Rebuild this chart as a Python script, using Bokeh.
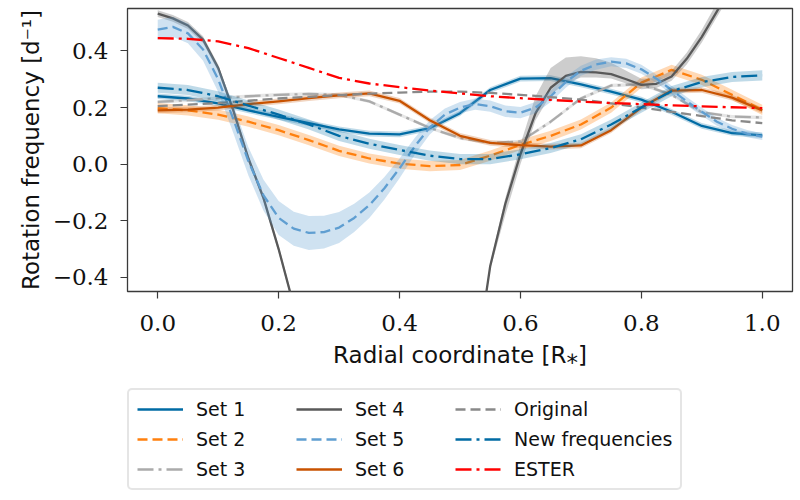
import numpy as np
from bokeh.plotting import figure
from bokeh.layouts import column
from bokeh.models import Range1d, FixedTicker, Legend, LegendItem, CustomJSTickFormatter
from bokeh.embed import file_html
from bokeh.resources import INLINE

# ---------------- data ----------------
r = [0.0, 0.05, 0.1, 0.15, 0.2, 0.25, 0.3, 0.35, 0.4, 0.45, 0.5,
     0.55, 0.6, 0.65, 0.7, 0.75, 0.8, 0.85, 0.9, 0.95, 1.0]
r_fine = [0.0, 0.025, 0.05, 0.075, 0.1, 0.125, 0.15, 0.175, 0.2, 0.225,
          0.25, 0.275, 0.3, 0.325, 0.35, 0.375, 0.4, 0.425, 0.45, 0.475,
          0.5, 0.525, 0.55, 0.575, 0.6, 0.625, 0.65, 0.675, 0.7, 0.725,
          0.75, 0.775, 0.8, 0.825, 0.85, 0.875, 0.9, 0.925, 0.95, 0.975, 1.0]

set1 = [0.240, 0.232, 0.215, 0.190, 0.167, 0.145, 0.123, 0.108, 0.105, 0.127, 0.180,
        0.262, 0.302, 0.304, 0.282, 0.256, 0.228, 0.185, 0.135, 0.110, 0.102]
set1_err = 0.010

set2 = [0.198, 0.190, 0.175, 0.150, 0.120, 0.085, 0.047, 0.020, 0.002, -0.007, -0.003,
        0.030, 0.068, 0.100, 0.140, 0.200, 0.288, 0.333, 0.298, 0.245, 0.192]
set2_err = 0.018

set3 = [0.220, 0.226, 0.233, 0.240, 0.245, 0.248, 0.245, 0.222, 0.175, 0.128, 0.092,
        0.075, 0.080, 0.150, 0.232, 0.278, 0.282, 0.245, 0.183, 0.168, 0.165]
set3_err = 0.006

set4 = [0.532, 0.515, 0.490, 0.440, 0.340, 0.190, 0.020, -0.120, -0.300, -0.500,
        -0.720, -0.920, -1.100, -1.250, -1.380, -1.470, -1.520, -1.500, -1.420, -1.250,
        -1.000, -0.720, -0.360, -0.140, 0.035, 0.180, 0.270, 0.312, 0.326, 0.324,
        0.318, 0.300, 0.280, 0.284, 0.310, 0.372, 0.450, 0.540, 0.630, 0.720, 0.800]
set4_err_up = [0.012] * 23 + [0.020, 0.035, 0.060, 0.070, 0.065, 0.055, 0.050,
                              0.040, 0.030, 0.022, 0.020, 0.020, 0.022, 0.025,
                              0.030, 0.030, 0.030, 0.030]
set4_err_dn = [0.012] * 23 + [0.040, 0.035, 0.025, 0.025, 0.025, 0.020, 0.018,
                              0.015, 0.015, 0.015, 0.015, 0.015, 0.020, 0.020,
                              0.020, 0.020, 0.020, 0.020]

set5 = [0.475, 0.485, 0.462, 0.405, 0.300, 0.160, 0.010, -0.110, -0.190, -0.228,
        -0.243, -0.240, -0.224, -0.190, -0.145, -0.085, -0.015, 0.062, 0.130, 0.175,
        0.200, 0.212, 0.205, 0.187, 0.182, 0.200, 0.240, 0.290, 0.330, 0.352,
        0.362, 0.356, 0.335, 0.302, 0.262, 0.222, 0.185, 0.150, 0.125, 0.108, 0.097]
set5_err = [0.035, 0.035, 0.035, 0.040, 0.045, 0.050, 0.050, 0.055, 0.060, 0.060,
            0.060, 0.058, 0.055, 0.050, 0.045, 0.040, 0.035, 0.030, 0.025, 0.022,
            0.020, 0.020, 0.020, 0.020, 0.020, 0.020, 0.020, 0.020, 0.018, 0.018,
            0.016, 0.016, 0.016, 0.015, 0.015, 0.015, 0.014, 0.014, 0.013, 0.013, 0.012]

set6 = [0.190, 0.193, 0.200, 0.212, 0.222, 0.233, 0.243, 0.250, 0.224, 0.155, 0.100,
        0.075, 0.067, 0.062, 0.066, 0.120, 0.200, 0.260, 0.262, 0.235, 0.190]
set6_err = 0.010

original = [0.205, 0.210, 0.216, 0.224, 0.232, 0.238, 0.244, 0.249, 0.253, 0.256, 0.256,
            0.252, 0.245, 0.237, 0.228, 0.215, 0.200, 0.185, 0.170, 0.155, 0.145]

new_freq = [0.270, 0.262, 0.240, 0.207, 0.175, 0.140, 0.100, 0.072, 0.050, 0.030, 0.018,
            0.018, 0.035, 0.057, 0.088, 0.140, 0.200, 0.258, 0.290, 0.308, 0.314]
new_freq_err = 0.018

ester = [0.445, 0.443, 0.434, 0.410, 0.375, 0.340, 0.305, 0.285, 0.272, 0.260, 0.250,
         0.240, 0.233, 0.227, 0.221, 0.216, 0.212, 0.208, 0.204, 0.201, 0.198]

x_ticks = [0.0, 0.2, 0.4, 0.6, 0.8, 1.0]
y_ticks = [-0.4, -0.2, 0.0, 0.2, 0.4]
legend_labels = ["Set 1", "Set 2", "Set 3", "Set 4", "Set 5", "Set 6",
                 "Original", "New frequencies", "ESTER"]

# ---------------- styles ----------------
SANS = "DejaVu Sans"
SERIF = "DejaVu Serif"
LW = 2.3
DASH = "10 5"
DASHDOT = "16 5 3 5"
C1, C2, C3, C4, C5, C6 = "#006BA4", "#FF800E", "#ABABAB", "#595959", "#5F9ED1", "#C85200"
CO, CN, CE = "#898989", "#006BA4", "#FF0000"
styles = {
    "Set 1": dict(line_color=C1, line_dash="solid"),
    "Set 2": dict(line_color=C2, line_dash=DASH),
    "Set 3": dict(line_color=C3, line_dash=DASHDOT),
    "Set 4": dict(line_color=C4, line_dash="solid"),
    "Set 5": dict(line_color=C5, line_dash=DASH),
    "Set 6": dict(line_color=C6, line_dash="solid"),
    "Original": dict(line_color=CO, line_dash=DASH),
    "New frequencies": dict(line_color=CN, line_dash=DASHDOT),
    "ESTER": dict(line_color=CE, line_dash=DASHDOT),
}
series = {
    "Set 1": (r, set1), "Set 2": (r, set2), "Set 3": (r, set3),
    "Set 4": (r_fine, set4), "Set 5": (r_fine, set5), "Set 6": (r, set6),
    "Original": (r, original), "New frequencies": (r, new_freq), "ESTER": (r, ester),
}

# ---------------- main figure ----------------
p = figure(frame_width=665, frame_height=283,
           min_border_left=127, min_border_right=8, min_border_top=8, min_border_bottom=85,
           x_range=Range1d(-0.05, 1.05), y_range=Range1d(-0.45, 0.55),
           output_backend="svg", toolbar_location=None)
p.xgrid.visible = False
p.ygrid.visible = False
p.outline_line_color = "#3a3a3a"
p.outline_line_width = 1.3
p.background_fill_color = "white"
p.border_fill_color = "white"

fmt = CustomJSTickFormatter(code="return tick.toFixed(1).replace('-', '\u2212');")
for ax, ticks in ((p.xaxis[0], x_ticks), (p.yaxis[0], y_ticks)):
    ax.ticker = FixedTicker(ticks=ticks)
    ax.formatter = fmt
    ax.axis_line_color = None
    ax.major_tick_line_color = "#3a3a3a"
    ax.major_tick_line_width = 1.2
    ax.major_tick_out = 7
    ax.major_tick_in = 0
    ax.minor_tick_line_color = None
    ax.major_label_text_font = SERIF
    ax.major_label_text_font_size = "23px"
    ax.major_label_text_color = "#111111"
    ax.axis_label_text_font = SANS
    ax.axis_label_text_font_size = "23px"
    ax.axis_label_text_font_style = "normal"
    ax.axis_label_text_color = "#111111"

p.xaxis.axis_label = "Radial coordinate [R\u204e]"
p.yaxis.axis_label = "Rotation frequency [d\u207b\u00b9]"
p.xaxis.major_label_standoff = 16
p.xaxis.axis_label_standoff = 8
p.yaxis.major_label_standoff = 12
p.yaxis.axis_label_standoff = 6


def band(x, lo, hi, color, alpha):
    p.varea(x=x, y1=lo, y2=hi, fill_color=color, fill_alpha=alpha)


def arr(a):
    return np.asarray(a, dtype=float)


def curve(name):
    x, y = series[name]
    p.line(x, y, line_width=LW, line_join="round", **styles[name])


band(r, arr(set1) - set1_err, arr(set1) + set1_err, C1, 0.25)
curve("Set 1")
band(r, arr(set2) - set2_err, arr(set2) + set2_err, C2, 0.3)
curve("Set 2")
band(r, arr(set3) - set3_err, arr(set3) + set3_err, C3, 0.3)
curve("Set 3")
band(r_fine, arr(set4) - arr(set4_err_dn), arr(set4) + arr(set4_err_up), C4, 0.3)
curve("Set 4")
band(r_fine, arr(set5) - arr(set5_err), arr(set5) + arr(set5_err), C5, 0.3)
curve("Set 5")
band(r, arr(set6) - set6_err, arr(set6) + set6_err, C6, 0.25)
curve("Set 6")
curve("Original")
band(r, arr(new_freq) - new_freq_err, arr(new_freq) + new_freq_err, CN, 0.25)
curve("New frequencies")
curve("ESTER")

# ---------------- legend strip (separate figure below) ----------------
# the series are re-drawn here outside the visible range, only to feed the legend
lg = figure(width=800, height=124, x_range=Range1d(0, 1), y_range=Range1d(10, 11),
            x_axis_type=None, y_axis_type=None, min_border=0,
            output_backend="svg", toolbar_location=None)
lg.xgrid.visible = False
lg.ygrid.visible = False
lg.outline_line_color = None
lg.background_fill_color = "white"
lg.border_fill_color = "white"

items = []
for name in legend_labels:
    x, y = series[name]
    rr = lg.line(x, y, line_width=LW, **styles[name])
    items.append(LegendItem(label=name, renderers=[rr]))

legend = Legend(items=items, location=(0, 10), orientation="vertical", nrows=3)
legend.label_text_font = SANS
legend.label_text_font_size = "19px"
legend.label_text_color = "#111111"
legend.glyph_width = 46
legend.glyph_height = 22
legend.label_height = 22
legend.label_width = 92
legend.label_standoff = 13
legend.spacing = 8
legend.padding = 8
legend.margin = 0
legend.border_line_color = "#cccccc"
legend.border_line_width = 2
legend.background_fill_color = "white"
legend.background_fill_alpha = 1.0
try:
    legend.border_radius = 5
except Exception:
    pass
lg.add_layout(legend, "center")

layout = column(p, lg, spacing=0)
open("out.html", "w").write(file_html(layout, INLINE))
